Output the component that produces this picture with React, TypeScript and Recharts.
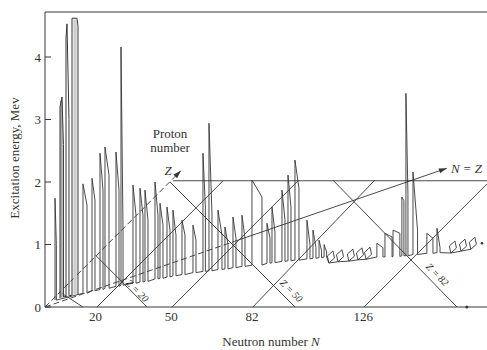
import React from 'react';
import { ComposedChart, Line, XAxis, YAxis, ReferenceLine, ReferenceDot, Label } from 'recharts';

const INK = '#363636';
const SERIF = '"Liberation Serif", "DejaVu Serif", serif';

const N_MAX = 175;
const E_MAX = 4.72;
const nTicks = [20, 50, 82, 126];
const eTicks = [0, 1, 2, 3, 4];

// spikes up to the loops: foot position, foot height, peak, tail position, tail height
const spikeN = [3.96, 15.04, 18.61, 21.77, 23.75, 28.11, 30.09, 34.84, 37.61, 39.59, 43.55, 45.53, 48.3, 50.67, 54.24, 58.59, 62.55, 64.92, 68.49, 71.26, 74.43, 77.99, 81.95, 87.89, 89.87, 93.82, 96.2, 98.97, 103.72, 106.1, 108.5, 110.5];
const spikeBase = [0.11, 0.22, 0.26, 0.28, 0.3, 0.33, 0.35, 0.38, 0.4, 0.41, 0.45, 0.46, 0.48, 0.5, 0.52, 0.55, 0.57, 0.58, 0.6, 0.61, 0.63, 0.65, 0.67, 0.7, 0.71, 0.73, 0.74, 0.75, 0.77, 0.78, 0.79, 0.8];
const spikeTop = [1.74, 1.97, 2.06, 2.46, 2.56, 2.48, 4.16, 1.95, 1.9, 1.87, 2.0, 1.66, 1.6, 1.55, 1.39, 1.31, 2.46, 2.94, 1.55, 1.28, 1.44, 1.47, 2.03, 1.34, 1.6, 1.87, 2.11, 2.35, 1.39, 1.23, 1.07, 1.0];
const spikeEndN = [4.5, 16.63, 19.79, 22.96, 25.34, 29.3, 30.9, 36.03, 38.8, 40.78, 44.73, 46.71, 49.49, 51.86, 55.42, 59.78, 63.5, 66.1, 70.07, 72.45, 75.61, 79.18, 85.91, 89.08, 91.05, 95.01, 97.39, 100.55, 104.91, 107.28, 109.5, 111.5];
const spikeEndE = [1.0, 1.63, 1.71, 1.87, 2.11, 1.87, 1.2, 1.47, 1.47, 1.39, 1.47, 1.31, 1.23, 1.15, 1.15, 1.07, 1.6, 1.5, 1.15, 1.0, 1.1, 1.1, 1.76, 1.1, 1.2, 1.4, 1.6, 1.9, 1.0, 0.95, 0.9, 0.88];

// small closed loops
const loopN = [113.2, 116.8, 121.1, 124.7, 127.9];
const loopE = [0.8, 0.82, 0.83, 0.85, 0.86];

// heavy region near Z = 82 and beyond
const spike2N = [131.4, 134.6, 137.8, 141.3, 142.9, 145.7, 151.2, 155.2];
const spike2Base = [0.8, 0.8, 0.81, 0.82, 0.82, 0.84, 0.86, 0.87];
const spike2Top = [1.02, 1.18, 1.23, 1.76, 3.42, 2.16, 1.18, 1.26];
const spike2EndN = [133.8, 137.4, 140.5, 142.1, 143.7, 147.5, 153.6, 156.4];
const spike2EndE = [0.95, 1.12, 1.18, 1.7, 1.8, 1.23, 1.1, 0.95];

const loop2N = [161.5, 165.5, 169.4];
const loop2E = [0.96, 0.99, 1.02];

// the tall light-nuclei peaks
const tallN = [5.94, 5.94, 6.73, 7.3, 7.3, 8.31, 8.31, 8.71, 9.5, 9.5, 10.69, 10.69, 12.67, 13.06, 13.06];
const tallE = [0.14, 3.2, 3.36, 2.6, 0.16, 0.17, 4.3, 4.53, 3.0, 0.18, 0.19, 4.62, 4.62, 4.5, 0.2];
const shadeN = [6.5, 6.5, 11.9, 11.9];
const shadeE = [0.15, 3.3, 0.2, 4.6];

// floor grid (start N, start E, end N, end E)
const floorNames = ['Z axis', 'N=Z near', 'N=Z far', 'back edge', 'Z=8', 'Z=20', 'Z=50', 'Z=82', 'N=20', 'N=50', 'N=82', 'N=126'];
const floorN1 = [0, 0, 75, 50.7, 5.9, 20.2, 49.5, 114.0, 20.6, 50.3, 82.3, 126.3];
const floorE1 = [0, 0, 1.05, 2.02, 0.24, 0.82, 2.0, 2.03, 0, 0, 0, 0];
const floorN2 = [53.8, 75, 159.1, 175, 15.0, 40.4, 99.0, 163.1, 70.5, 100.2, 130.6, 175];
const floorE2 = [2.18, 1.05, 2.22, 2.02, 0, 0, 0, 0, 2.02, 2.02, 2.03, 1.97];
const dashed = ['Z axis', 'N=Z near'];

const zLabels = ['Z = 20', 'Z = 50', 'Z = 82'];
const zLabelN = [35.6, 96.6, 154.4];
const zLabelE = [0.22, 0.22, 0.48];

type Pt = { x: number; y: number };

function spikePath(n: number[], base: number[], top: number[], endN: number[], endE: number[]): Pt[] {
  const pts: Pt[] = [];
  n.forEach((v, i) => {
    pts.push({ x: v, y: base[i] }, { x: v, y: top[i] }, { x: endN[i], y: endE[i] }, { x: endN[i], y: base[i] });
  });
  return pts;
}

function loopPath(n: number[], e: number[]): Pt[] {
  const pts: Pt[] = [];
  n.forEach((c, i) => {
    const y = e[i];
    pts.push(
      { x: c - 0.8, y: y - 0.096 },
      { x: c + 1.4, y: y - 0.016 },
      { x: c + 0.8, y: y + 0.096 },
      { x: c - 1.4, y: y + 0.016 },
      { x: c - 0.8, y: y - 0.096 }
    );
  });
  return pts;
}

const zip = (n: number[], e: number[]): Pt[] => n.map((x, i) => ({ x, y: e[i] }));

const trace = [
  ...spikePath(spikeN, spikeBase, spikeTop, spikeEndN, spikeEndE),
  ...loopPath(loopN, loopE),
  ...spikePath(spike2N, spike2Base, spike2Top, spike2EndN, spike2EndE),
  ...loopPath(loop2N, loop2E),
];
const tall = zip(tallN, tallE);

const YTick = (props: any) => {
  const { x, y, payload } = props;
  return (
    <g>
      <line x1={x + 4} x2={x + 10} y1={y} y2={y} stroke={INK} />
      <text x={x} y={y} dy={4.5} textAnchor="end" fontFamily={SERIF} fontSize={13} fill="#333">
        {payload.value}
      </text>
    </g>
  );
};

const textAt = (lines: string[], opts: { anchor?: string; italic?: boolean; size?: number; rotate?: number; gap?: number } = {}) =>
  (props: any) => {
    const { x, y } = props.viewBox;
    const size = opts.size ?? 13;
    return (
      <text
        x={x}
        y={y}
        textAnchor={opts.anchor ?? 'middle'}
        fontFamily={SERIF}
        fontSize={size}
        fontStyle={opts.italic ? 'italic' : 'normal'}
        fill="#333"
        transform={opts.rotate ? `rotate(${opts.rotate} ${x} ${y})` : undefined}
      >
        {lines.map((l, i) => (
          <tspan key={i} x={x} dy={i === 0 ? 0 : opts.gap ?? 14}>
            {l}
          </tspan>
        ))}
      </text>
    );
  };

const arrowHead = (angle: number) => (props: any) => {
  const { cx, cy } = props;
  return (
    <polygon
      points={`${cx},${cy} ${cx - 8},${cy - 2.6} ${cx - 8},${cy + 2.6}`}
      fill={INK}
      transform={`rotate(${angle} ${cx} ${cy})`}
    />
  );
};

export default function App() {
  return (
    <div style={{ position: 'absolute', left: 0, top: 0, width: 487, height: 350, background: '#fff' }}>
      <ComposedChart width={487} height={350} margin={{ top: 12, right: 0, bottom: 0, left: 0 }}>
        <XAxis
          type="number"
          dataKey="x"
          domain={[0, N_MAX]}
          ticks={nTicks}
          height={43}
          tickSize={0}
          tickMargin={5}
          tickLine={false}
          axisLine={{ stroke: INK }}
          tick={{ fontFamily: SERIF, fontSize: 13, fill: '#333' }}
          allowDataOverflow
        >
          <Label
            content={(p: any) => (
              <text x={271} y={p.viewBox.y + 39} textAnchor="middle" fontFamily={SERIF} fontSize={13} fill="#333">
                Neutron number <tspan fontStyle="italic">N</tspan>
              </text>
            )}
          />
        </XAxis>
        <YAxis
          type="number"
          dataKey="y"
          domain={[0, E_MAX]}
          ticks={eTicks}
          width={45}
          tickSize={0}
          tickMargin={4}
          tickLine={false}
          axisLine={{ stroke: INK }}
          tick={<YTick />}
          allowDataOverflow
        >
          <Label
            content={() => (
              <text x={19} y={158} textAnchor="middle" fontFamily={SERIF} fontSize={13} fill="#333" transform="rotate(-90 19 158)">
                Excitation energy, Mev
              </text>
            )}
          />
        </YAxis>

        <ReferenceLine y={E_MAX} stroke={INK} strokeWidth={1} />

        {floorNames.map((name, i) => (
          <ReferenceLine
            key={name}
            segment={[
              { x: floorN1[i], y: floorE1[i] },
              { x: floorN2[i], y: floorE2[i] },
            ]}
            stroke={INK}
            strokeWidth={0.9}
            strokeDasharray={dashed.includes(name) ? '6 3' : undefined}
          />
        ))}

        <ReferenceDot x={floorN2[0]} y={floorE2[0]} r={0} shape={arrowHead(-45)} />
        <ReferenceDot x={floorN2[2]} y={floorE2[2]} r={0} shape={arrowHead(-19)} />

        <Line data={zip(shadeN.slice(0, 2), shadeE.slice(0, 2))} dataKey="y" stroke="#a8a8a8" strokeWidth={2.5} dot={false} isAnimationActive={false} />
        <Line data={zip(shadeN.slice(2), shadeE.slice(2))} dataKey="y" stroke="#cfcfcf" strokeWidth={3.5} dot={false} isAnimationActive={false} />
        <Line data={tall} dataKey="y" type="linear" stroke={INK} strokeWidth={1} dot={false} isAnimationActive={false} />
        <Line data={trace} dataKey="y" type="linear" stroke={INK} strokeWidth={0.9} dot={false} isAnimationActive={false} />

        <ReferenceDot x={173} y={1.02} r={1.3} fill={INK} stroke="none" />
        <ReferenceDot x={167} y={0} r={1.5} fill={INK} stroke="none" />

        {zLabels.map((t, i) => (
          <ReferenceDot key={t} x={zLabelN[i]} y={zLabelE[i]} r={0} label={{ content: textAt([t], { italic: true, size: 10, rotate: 45 }) }} />
        ))}
        <ReferenceDot x={49.5} y={2.7} r={0} label={{ content: textAt(['Proton', 'number'], { gap: 14 }) }} />
        <ReferenceDot x={48.7} y={2.11} r={0} label={{ content: textAt(['Z'], { italic: true }) }} />
        <ReferenceDot x={160.7} y={2.14} r={0} label={{ content: textAt(['N = Z'], { italic: true, anchor: 'start' }) }} />
      </ComposedChart>
    </div>
  );
}
